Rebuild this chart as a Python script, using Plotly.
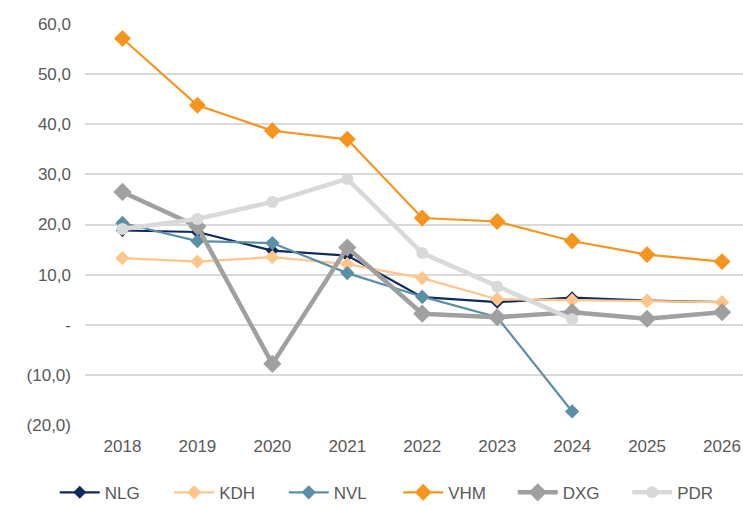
import plotly.graph_objects as go

years = [2018, 2019, 2020, 2021, 2022, 2023, 2024, 2025, 2026]
nlg = [18.8, 18.5, 14.8, 13.8, 5.5, 4.5, 5.4, 4.8, 4.5]
kdh = [13.3, 12.6, 13.5, 12.1, 9.3, 5.1, 4.9, 4.7, 4.5]
nvl = [20.3, 16.7, 16.3, 10.3, 5.6, 1.5, -17.3]
vhm = [57.1, 43.8, 38.7, 37.0, 21.3, 20.6, 16.7, 14.0, 12.6]
dxg = [26.5, 19.6, -7.8, 15.4, 2.2, 1.5, 2.5, 1.2, 2.5]
pdr = [19.1, 21.1, 24.5, 29.1, 14.3, 7.6, 1.1]

ytick_vals = [-20, -10, 0, 10, 20, 30, 40, 50, 60]
ytick_text = ["(20,0)", "(10,0)", "-", "10,0", "20,0", "30,0", "40,0", "50,0", "60,0"]

series = [
    ("NLG", nlg, "#0D2A5C", 2.2, "diamond", 10),
    ("KDH", kdh, "#FFC68C", 2.2, "diamond", 11),
    ("NVL", nvl, "#5B8FA8", 2.2, "diamond", 11),
    ("VHM", vhm, "#F7941D", 2.2, "diamond", 13),
    ("DXG", dxg, "#A0A0A0", 4.5, "diamond", 14),
    ("PDR", pdr, "#D9D9D9", 4.5, "circle", 12),
]

fig = go.Figure()
for name, vals, color, lw, sym, ms in series:
    fig.add_trace(go.Scatter(
        x=years[:len(vals)], y=vals, name=name, mode="lines+markers",
        line=dict(color=color, width=lw),
        marker=dict(symbol=sym, size=ms, color=color),
    ))

fig.update_layout(
    width=743, height=505,
    paper_bgcolor="white", plot_bgcolor="white",
    margin=dict(l=85, r=0, t=24, b=80, autoexpand=False),
    font=dict(family="Liberation Sans, Arial, sans-serif", size=17, color="#595959"),
    showlegend=True,
    legend=dict(orientation="h", x=-0.046, xanchor="left", y=-0.169, yanchor="middle",
                itemwidth=40, entrywidth=59.5, entrywidthmode="pixels",
                font=dict(size=17, color="#595959"), bgcolor="rgba(0,0,0,0)"),
    xaxis=dict(range=[2017.5, 2026.28], tickvals=years, ticktext=[str(y) for y in years],
               showgrid=False, zeroline=False, showline=False, ticks="",
               automargin=False, ticklabelstandoff=9),
    yaxis=dict(range=[-20, 60], tickvals=ytick_vals, ticktext=ytick_text,
               showgrid=True, gridcolor="#D9D9D9", gridwidth=1.5,
               zeroline=False, showline=False, ticks="", ticklabelstandoff=13,
               automargin=False),
)

fig.write_html("out.html", config={"displayModeBar": False},
               post_script="document.body.style.margin='0';document.body.style.overflow='hidden';")
